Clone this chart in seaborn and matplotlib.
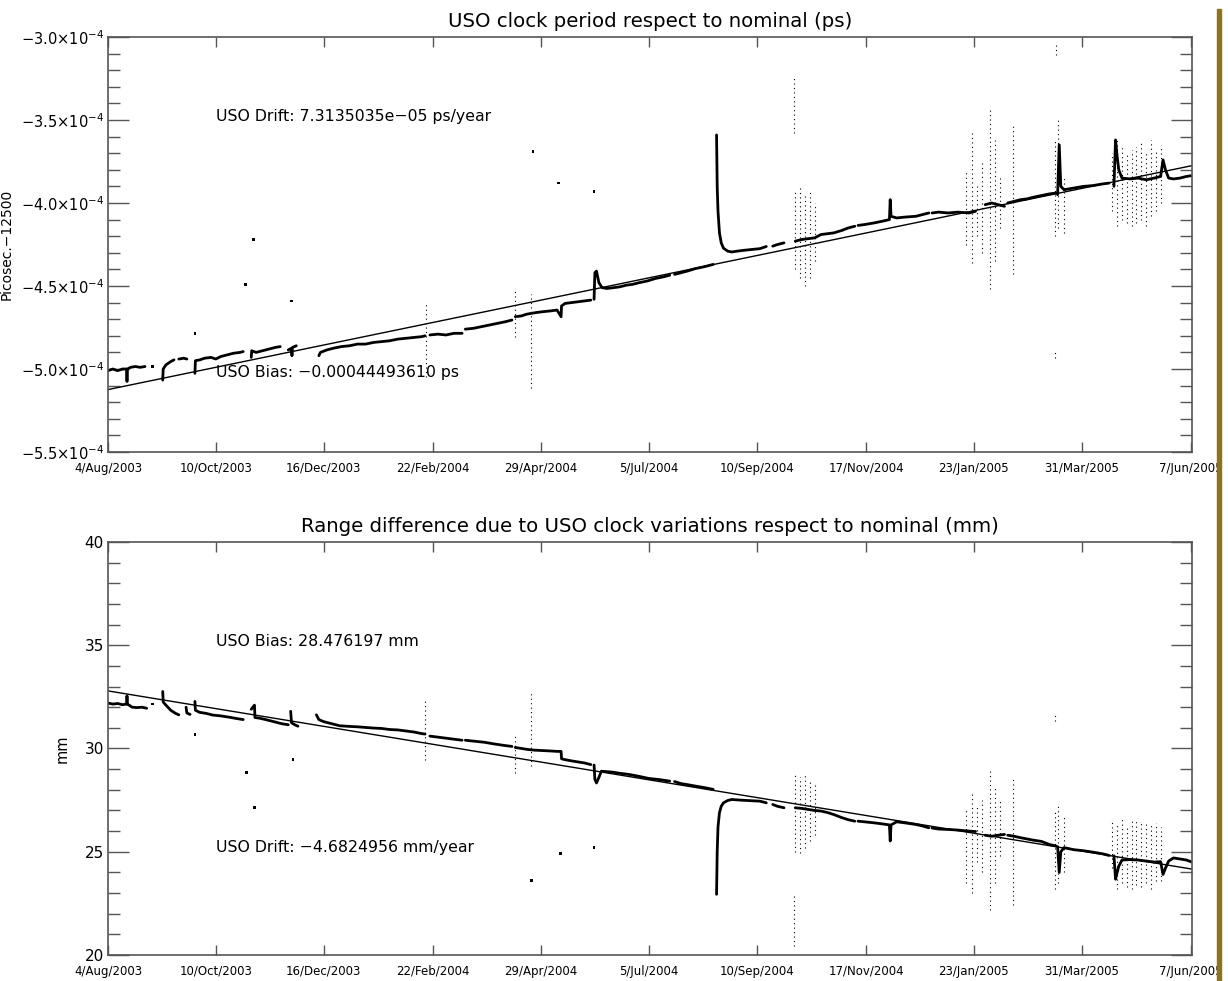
import matplotlib
matplotlib.use("Agg")
import matplotlib.pyplot as plt
from matplotlib.patches import Rectangle
from matplotlib.ticker import MultipleLocator
import pandas as pd
import seaborn as sns

# ---------------- data (days since 4/Aug/2003) ----------------
tick_days = [0, 67, 134, 202, 269, 336, 403, 471, 538, 605, 673]
tick_labels = ["4/Aug/2003", "10/Oct/2003", "16/Dec/2003", "22/Feb/2004", "29/Apr/2004",
               "5/Jul/2004", "10/Sep/2004", "17/Nov/2004", "23/Jan/2005", "31/Mar/2005", "7/Jun/2005"]
x_end = 673.5

# top panel values in units of 1e-4 ps
top_ticks = [-5.5, -5.0, -4.5, -4.0, -3.5, -3.0]
top_tick_labels = [r"$-5.5{\times}10^{-4}$", r"$-5.0{\times}10^{-4}$", r"$-4.5{\times}10^{-4}$",
                   r"$-4.0{\times}10^{-4}$", r"$-3.5{\times}10^{-4}$", r"$-3.0{\times}10^{-4}$"]
top_fit_days = [0, 673.5]
top_fit_vals = [-5.124, -3.775]

top_trace = [
    [(0, -5.01), (3, -5.0), (6, -5.01), (9, -5.0), (11.5, -5.0), (11.8, -5.075), (12.1, -5.0),
     (14, -4.99), (17, -4.985), (20, -4.99), (23, -4.985)],
    [(34, -5.067), (34.3, -5.0), (36, -4.975), (39, -4.955), (41, -4.945)],
    [(44, -4.94), (47, -4.935), (49, -4.94)],
    [(54, -5.026), (54.3, -4.95), (57, -4.945), (60, -4.935), (64, -4.93), (67, -4.94), (70, -4.925),
     (74, -4.915), (78, -4.905), (82, -4.9), (84, -4.895)],
    [(89, -4.93), (89.3, -4.89), (92, -4.9), (96, -4.89), (100, -4.88), (104, -4.87), (107, -4.865)],
    [(112, -4.885), (114, -4.875), (114.3, -4.92), (114.6, -4.87), (117, -4.86)],
    [(131, -4.92), (132, -4.9), (136, -4.885), (140, -4.875), (145, -4.865), (150, -4.86), (155, -4.85),
     (160, -4.85), (165, -4.84), (170, -4.835), (175, -4.83), (180, -4.82), (185, -4.815), (190, -4.81),
     (195, -4.805), (197, -4.80)],
    [(200, -4.795), (205, -4.79), (210, -4.795), (215, -4.785), (220, -4.785)],
    [(222, -4.76), (227, -4.755), (232, -4.745), (237, -4.735), (242, -4.725), (247, -4.715), (251, -4.705)],
    [(253, -4.685), (257, -4.68), (260, -4.67), (263, -4.665), (266, -4.66), (270, -4.655), (275, -4.65),
     (279, -4.645), (281.5, -4.685), (281.8, -4.62), (284, -4.605), (288, -4.60), (292, -4.595),
     (296, -4.59), (300, -4.585)],
    [(302, -4.58), (302.5, -4.42), (303.5, -4.41), (305, -4.48), (307, -4.51), (310, -4.515), (314, -4.51),
     (318, -4.505), (322, -4.495), (326, -4.49), (330, -4.48), (335, -4.47), (340, -4.455), (345, -4.445),
     (349, -4.435)],
    [(352, -4.43), (356, -4.42), (360, -4.41), (365, -4.395), (370, -4.385), (376, -4.37)],
    [(378.1, -3.59), (378.5, -3.9), (379, -4.05), (379.9, -4.18), (381, -4.24), (382.4, -4.272),
     (385, -4.29), (387.5, -4.295), (391, -4.29), (395, -4.285), (400, -4.28), (405, -4.275), (409, -4.262)],
    [(413, -4.26), (416, -4.25), (420, -4.24)],
    [(427, -4.23), (431, -4.22), (435, -4.215), (439, -4.21), (443, -4.19), (447, -4.185), (451, -4.18),
     (456, -4.165), (460, -4.15), (464, -4.14)],
    [(466, -4.135), (470, -4.13), (476, -4.12), (481, -4.11), (485.5, -4.10), (486, -3.98), (486.5, -4.08),
     (490, -4.09), (495, -4.085), (502, -4.08), (506, -4.07), (510, -4.06)],
    [(512, -4.06), (516, -4.055), (522, -4.06), (528, -4.055), (535, -4.06), (539, -4.05)],
    [(545, -4.01), (549, -4.0), (553, -4.01), (557, -4.02)],
    [(559, -4.0), (563, -3.99), (567, -3.98), (571, -3.975), (575, -3.965), (580, -3.955), (585, -3.945),
     (589, -3.94)],
    [(590, -3.95), (591, -3.65), (592, -3.9), (594, -3.92), (600, -3.91), (606, -3.9), (612, -3.895),
     (618, -3.885), (622, -3.88)],
    [(625, -3.90), (626, -3.62), (627, -3.72), (628, -3.80), (630, -3.85), (635, -3.855), (640, -3.85),
     (645, -3.86), (650, -3.85), (654, -3.84), (655.5, -3.74), (657, -3.80), (659, -3.85), (662, -3.855),
     (666, -3.85), (670, -3.84), (673.5, -3.835)],
]
top_clusters = [
    (197.4, -5.05, -4.60), (252.8, -4.805, -4.51), (263, -5.117, -4.55), (426, -3.577, -3.235),
    (427, -4.40, -3.92), (430, -4.45, -3.90), (433, -4.50, -3.95), (436, -4.45, -3.93), (439, -4.35, -4.0),
    (533, -4.25, -3.80), (537, -4.36, -3.58), (540, -4.20, -3.90), (543, -4.30, -3.75), (548, -4.52, -3.44),
    (551, -4.35, -3.62), (554, -4.15, -3.85), (562, -4.43, -3.52),
    (588.5, -4.20, -3.62), (590.5, -4.15, -3.50), (594, -4.18, -3.85),
    (589, -3.11, -3.03), (588.5, -4.935, -4.885),
    (624, -4.05, -3.70), (627, -4.14, -3.62), (630, -4.10, -3.65), (633, -4.12, -3.70), (636, -4.14, -3.68),
    (639, -4.12, -3.66), (642, -4.10, -3.64), (645, -4.14, -3.70), (648, -4.08, -3.62), (651, -4.05, -3.68),
    (654, -4.0, -3.65),
]
top_dots = [(27.7, -4.986), (264, -3.688), (280, -3.88), (302, -3.93), (90.5, -4.22), (85.5, -4.49),
            (114, -4.59), (54, -4.785)]

# bottom panel values in mm
bot_ticks = [20, 25, 30, 35, 40]
bot_tick_labels = ["20", "25", "30", "35", "40"]
bot_fit_days = [0, 673.5]
bot_fit_vals = [32.79, 24.16]

bot_trace = [
    [(0, 32.2), (3, 32.15), (6, 32.18), (9, 32.12), (11.5, 32.15), (11.8, 32.55), (12.1, 32.15), (15, 32.0),
     (18, 31.98), (21, 32.0), (24, 31.95)],
    [(34, 32.76), (34.3, 32.25), (36, 32.1), (39, 31.85), (42, 31.7), (44, 31.63)],
    [(48.5, 32.0), (49, 31.72), (51, 31.65)],
    [(54, 32.28), (54.3, 31.85), (57, 31.75), (61, 31.7), (65, 31.62), (70, 31.58), (75, 31.52), (80, 31.45),
     (84, 31.4)],
    [(89, 31.9), (91, 32.1), (91.3, 31.5), (94, 31.47), (98, 31.4), (103, 31.3), (108, 31.2), (112, 31.15)],
    [(113.5, 31.8), (114, 31.25), (116, 31.15), (118, 31.08)],
    [(129.5, 31.63), (131, 31.4), (134, 31.3), (138, 31.22), (144, 31.1), (150, 31.07), (155, 31.05),
     (160, 31.02), (165, 30.99), (170, 30.97), (175, 30.92), (180, 30.9), (185, 30.85), (190, 30.8),
     (195, 30.72), (197, 30.7)],
    [(200, 30.6), (205, 30.55), (210, 30.5), (215, 30.45), (220, 30.4)],
    [(222, 30.4), (228, 30.35), (234, 30.3), (240, 30.22), (246, 30.15), (251, 30.1)],
    [(253, 30.05), (257, 30.0), (261, 29.95), (265, 29.92), (270, 29.9), (275, 29.88), (279, 29.86),
     (281.5, 29.86), (281.8, 29.5), (284, 29.46), (288, 29.4), (292, 29.35), (296, 29.3), (300, 29.22)],
    [(302, 29.2), (302.5, 28.5), (303.5, 28.33), (305, 28.6), (306.5, 28.9), (310, 28.88), (314, 28.85),
     (318, 28.8), (324, 28.74), (330, 28.65), (336, 28.55), (342, 28.5), (349, 28.42)],
    [(352, 28.4), (356, 28.3), (360, 28.25), (365, 28.18), (371, 28.1), (376, 28.02)],
    [(378.1, 22.94), (378.5, 25.0), (379, 26.2), (379.9, 26.89), (381, 27.2), (382.4, 27.37), (385, 27.48),
     (387.5, 27.53), (393, 27.5), (400, 27.47), (405, 27.45), (409, 27.37)],
    [(413, 27.29), (416, 27.2), (420, 27.13)],
    [(427, 27.13), (431, 27.1), (435, 27.05), (439, 27.0), (443, 26.97), (447, 26.9), (451, 26.8),
     (456, 26.65), (460, 26.55), (464, 26.48)],
    [(466, 26.48), (470, 26.45), (476, 26.4), (481, 26.35), (485.5, 26.3), (486, 25.52), (486.5, 26.3),
     (490, 26.45), (495, 26.4), (502, 26.32), (506, 26.25), (510, 26.16)],
    [(512, 26.15), (516, 26.1), (522, 26.08), (528, 26.05), (535, 26.0), (539, 25.98)],
    [(545, 25.8), (549, 25.75), (553, 25.8), (557, 25.84)],
    [(559, 25.8), (563, 25.75), (567, 25.68), (571, 25.62), (575, 25.56), (580, 25.5), (585, 25.35),
     (589, 25.28)],
    [(590, 25.25), (591, 24.0), (592, 25.0), (594, 25.2), (600, 25.1), (606, 25.05), (612, 24.98),
     (618, 24.9), (622, 24.82)],
    [(625, 24.8), (626, 23.67), (627, 24.0), (628, 24.3), (630, 24.6), (635, 24.62), (640, 24.6),
     (645, 24.55), (650, 24.5), (654, 24.52), (655.5, 23.9), (657, 24.2), (659, 24.55), (662, 24.7),
     (666, 24.65), (670, 24.6), (673.5, 24.5)],
]
bot_clusters = [
    (197, 29.46, 32.36), (252.8, 28.82, 30.75), (263, 29.14, 32.76), (426, 20.45, 22.94),
    (427, 25.0, 28.8), (430, 24.96, 28.6), (433, 25.2, 28.82), (436, 25.5, 28.5), (439, 25.8, 28.3),
    (533, 23.5, 27.0), (537, 23.0, 27.85), (540, 24.5, 27.2), (543, 24.0, 27.5), (548, 22.2, 28.98),
    (551, 23.5, 28.2), (554, 24.8, 27.5), (562, 22.4, 28.5),
    (588.5, 23.2, 26.97), (590.5, 23.5, 27.3), (594, 24.0, 26.8), (588.5, 31.35, 31.6),
    (624, 24.2, 26.6), (627, 23.2, 26.4), (630, 23.5, 26.6), (633, 23.3, 26.3), (636, 23.2, 26.5),
    (639, 23.4, 26.6), (642, 23.3, 26.4), (645, 23.5, 26.5), (648, 23.2, 26.3), (651, 23.6, 26.4),
    (654, 23.6, 26.2),
]
bot_dots = [(27.7, 32.16), (54, 30.67), (115, 29.46), (86, 28.82), (91, 27.13), (263, 23.6),
            (281, 24.9), (302, 25.2)]

titles = ["USO clock period respect to nominal (ps)",
          "Range difference due to USO clock variations respect to nominal (mm)"]
ylabels = ["Picosec.\u221212500", "mm"]
top_notes = [(67, -3.48, "USO Drift: 7.3135035e\u221205 ps/year"),
             (67, -5.02, "USO Bias: \u22120.00044493610 ps")]
bot_notes = [(67, 35.19, "USO Bias: 28.476197 mm"),
             (67, 25.2, "USO Drift: \u22124.6824956 mm/year")]

# ---------------- plotting ----------------
sns.set_style("ticks")
plt.rcParams["font.family"] = ["DejaVu Sans"]
plt.rcParams["text.color"] = "black"
plt.rcParams["axes.labelcolor"] = "black"
plt.rcParams["xtick.labelcolor"] = "black"
plt.rcParams["ytick.labelcolor"] = "black"
EDGE = "#555555"

W, H = 1228, 981
fig = plt.figure(figsize=(W / 100, H / 100), dpi=100)
fig.patch.set_facecolor("white")
ax1 = fig.add_axes([108 / W, 1 - 452 / H, (1192 - 108) / W, (452 - 37) / H])
ax2 = fig.add_axes([108 / W, 1 - 955 / H, (1192 - 108) / W, (955 - 542) / H])


def to_frame(segs):
    rows = []
    for i, s in enumerate(segs):
        for d, v in s:
            rows.append((i, d, v))
    return pd.DataFrame(rows, columns=["seg", "day", "val"])


def draw(ax, segs, clusters, dots, fit_d, fit_v, minor, ylabelsize):
    for d, lo, hi in clusters:
        ax.vlines(d, lo, hi, colors="black", linestyles=(0, (1, 3)), lw=0.8)
    sns.lineplot(data=to_frame(segs), x="day", y="val", units="seg", estimator=None, sort=False,
                 color="black", lw=2.0, ax=ax, legend=False)
    sns.scatterplot(data=pd.DataFrame(dots, columns=["day", "val"]), x="day", y="val", color="black",
                    s=4, marker="s", edgecolor="none", ax=ax, legend=False)
    sns.lineplot(x=fit_d, y=fit_v, color="black", lw=1.0, ax=ax)
    ax.set_xlim(0, x_end)
    ax.set_xticks(tick_days)
    ax.set_xticklabels(tick_labels)
    ax.yaxis.set_minor_locator(MultipleLocator(minor))
    ax.tick_params(axis="x", direction="in", length=7, width=1, top=True, bottom=True,
                   labelsize=8.5, pad=7, color=EDGE)
    ax.tick_params(axis="y", which="major", direction="in", length=15, width=1, left=True, right=True,
                   labelsize=ylabelsize, pad=3, color=EDGE)
    ax.tick_params(axis="y", which="minor", direction="in", length=8.5, width=1, left=True, right=True,
                   color=EDGE)
    for sp in ax.spines.values():
        sp.set_linewidth(1.2)
        sp.set_color(EDGE)
    ax.set_xlabel("")


draw(ax1, top_trace, top_clusters, top_dots, top_fit_days, top_fit_vals, 0.1, 10.5)
ax1.set_ylim(-5.5, -3.0)
ax1.set_yticks(top_ticks)
ax1.set_yticklabels(top_tick_labels)
ax1.set_title(titles[0], fontsize=14.2, pad=7)
ax1.set_ylabel(ylabels[0], fontsize=10)
ax1.yaxis.set_label_coords((14 - 108) / 1084, 0.5)
for d, v, t in top_notes:
    ax1.text(d, v, t, fontsize=11.3, ha="left", va="center")

draw(ax2, bot_trace, bot_clusters, bot_dots, bot_fit_days, bot_fit_vals, 1, 11)
ax2.set_ylim(20, 40)
ax2.set_yticks(bot_ticks)
ax2.set_yticklabels(bot_tick_labels)
ax2.set_title(titles[1], fontsize=14.2, pad=7)
ax2.set_ylabel(ylabels[1], fontsize=10.5)
ax2.yaxis.set_label_coords((70 - 108) / 1084, 0.5)
for d, v, t in bot_notes:
    ax2.text(d, v, t, fontsize=11.3, ha="left", va="center")

# gold border strip at the right edge
fig.add_artist(Rectangle((1221 / W, 0), 7 / W, 1, transform=fig.transFigure, color="white", zorder=20))
fig.add_artist(Rectangle((1217 / W, 0), 4 / W, 1 - 9 / H, transform=fig.transFigure,
                         color="#8B7326", zorder=21))

fig.savefig("out.png", dpi=100)
